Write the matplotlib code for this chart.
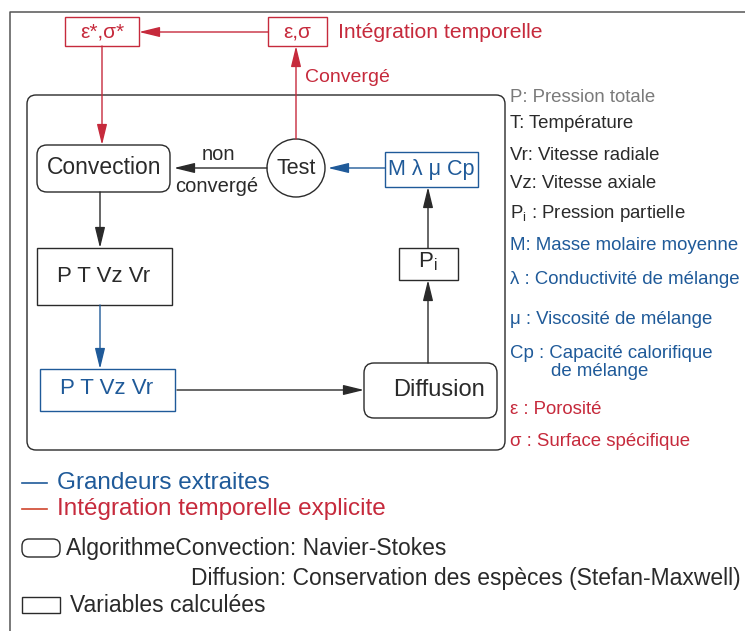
import matplotlib
matplotlib.use("Agg")
import matplotlib.pyplot as plt
from matplotlib.patches import FancyBboxPatch, Rectangle, Circle

plt.rcParams['font.family'] = ['Liberation Sans', 'DejaVu Sans']
plt.rcParams['mathtext.fontset'] = 'custom'
plt.rcParams['mathtext.rm'] = 'Liberation Sans'
plt.rcParams['mathtext.it'] = 'Liberation Sans'

RED = '#c62a3c'
BLUE = '#1f5a99'
DARK = '#2a2a2a'
GRAY = '#7a7a7a'

# ---- content ----
node_labels = {
    'eps_star': 'ε*,σ*',
    'eps': 'ε,σ',
    'conv': 'Convection',
    'test': 'Test',
    'props': 'M λ μ Cp',
    'pi': r'$\mathregular{P_i}$',
    'vars': 'P T Vz Vr',
    'vars_ext': 'P T Vz Vr',
    'diff': 'Diffusion',
}
edge_labels = {
    'top': 'Intégration temporelle',
    'conv_ok': 'Convergé',
    'non': 'non',
    'nonconv': 'convergé',
}
glossary_text = [
    'P: Pression totale',
    'T: Température',
    'Vr: Vitesse radiale',
    'Vz: Vitesse axiale',
    r'$\mathregular{P_i}$ : Pression partielle',
    'M: Masse molaire moyenne',
    'λ : Conductivité de mélange',
    'μ : Viscosité de mélange',
    'Cp : Capacité calorifique',
    'ε : Porosité',
    'σ : Surface spécifique',
]
glossary_kind = ['faint', 'plain', 'plain', 'plain', 'plain',
                 'blue', 'blue', 'blue', 'blue', 'red', 'red']
cp_second_line = 'de mélange'
legend_text = [
    'Grandeurs extraites',
    'Intégration temporelle explicite',
    'AlgorithmeConvection: Navier-Stokes',
    'Diffusion: Conservation des espèces (Stefan-Maxwell)',
    'Variables calculées',
]

kind_color = {'faint': GRAY, 'plain': DARK, 'blue': BLUE, 'red': RED}

W, H = 745, 631
fig = plt.figure(figsize=(W / 100, H / 100), dpi=100)
ax = fig.add_axes([0, 0, 1, 1])
ax.set_xlim(0, W)
ax.set_ylim(H, 0)
ax.axis('off')

# outer frame (top & left edges)
ax.plot([10, 10, W], [H, 12, 12], color='#555555', lw=1.1)

# inner algorithm frame
ax.add_patch(FancyBboxPatch((27, 95), 478, 355,
                            boxstyle='round,pad=0,rounding_size=9',
                            fc='none', ec=DARK, lw=1.0))


def rbox(x0, y0, x1, y1, ec, r=10):
    ax.add_patch(FancyBboxPatch((x0, y0), x1 - x0, y1 - y0,
                                boxstyle=f'round,pad=0,rounding_size={r}',
                                fc='white', ec=ec, lw=1.0))


def sbox(x0, y0, x1, y1, ec):
    ax.add_patch(Rectangle((x0, y0), x1 - x0, y1 - y0, fc='white', ec=ec, lw=1.0))


def arrow(x0, y0, x1, y1, color):
    ax.annotate('', xy=(x1, y1), xytext=(x0, y0),
                arrowprops=dict(arrowstyle='-|>,head_length=0.9,head_width=0.22',
                                color=color, lw=1.0, shrinkA=0, shrinkB=0,
                                mutation_scale=14))


def label(x, y, s, color=DARK, size=16, ha='center', **kw):
    ax.text(x, y, s, color=color, fontsize=size, ha=ha, va='center', **kw)


# boxes
sbox(65, 17, 139, 46, RED)
label(102, 32, node_labels['eps_star'], RED, 15)
sbox(268, 17, 327, 46, RED)
label(297.5, 32, node_labels['eps'], RED, 15)
label(338, 32, edge_labels['top'], RED, 15.2, ha='left')

rbox(37, 145, 170, 192, DARK)
label(104, 168, node_labels['conv'], DARK, 16.5)

ax.add_patch(Circle((296, 168), 29, fc='white', ec=DARK, lw=1.0))
label(296, 169, node_labels['test'], DARK, 15.5)

sbox(385, 152, 478, 187, BLUE)
label(431, 170, node_labels['props'], BLUE, 15.5)

sbox(399, 248, 458, 280, DARK)
label(428, 262, node_labels['pi'], DARK, 16)

sbox(37, 248, 172, 305, DARK)
label(104, 277, node_labels['vars'], DARK, 16)

sbox(40, 369, 175, 411, BLUE)
label(107, 389, node_labels['vars_ext'], BLUE, 16)

rbox(364, 363, 497, 418, DARK)
label(439, 390, node_labels['diff'], DARK, 17)

# arrows
arrow(268, 32, 139, 32, RED)
arrow(102, 46, 102, 145, RED)
arrow(296, 139, 296, 46, RED)
label(305, 77, edge_labels['conv_ok'], RED, 14, ha='left')

arrow(267, 168, 174, 168, DARK)
label(218, 155, edge_labels['non'], DARK, 14.5)
label(217, 187, edge_labels['nonconv'], DARK, 14.5)

arrow(385, 168, 328, 168, BLUE)
arrow(428, 248, 428, 187, DARK)
arrow(428, 363, 428, 280, DARK)
arrow(100, 192, 100, 248, DARK)
arrow(100, 305, 100, 369, BLUE)
arrow(177, 390, 364, 390, DARK)

# glossary on the right
gloss_y = [97, 123, 155, 184, 214, 245, 280, 320, 353, 410, 441]
for txt, kind, y in zip(glossary_text, glossary_kind, gloss_y):
    label(510, y, txt, kind_color[kind], 13.4, ha='left')
label(551, 372, cp_second_line, BLUE, 13.4, ha='left')

# bottom legend
ax.plot([22, 47], [483, 483], color=BLUE, lw=1.2)
label(57, 483, legend_text[0], BLUE, 17.5, ha='left')
ax.plot([22, 47], [509, 509], color='#d0452e', lw=1.2)
label(57, 509, legend_text[1], RED, 17.5, ha='left')
rbox(22, 539, 60, 557, DARK, r=7)
label(66, 549, legend_text[2], DARK, 16.5, ha='left')
label(191, 579, legend_text[3], DARK, 16.5, ha='left')
sbox(22, 597, 60, 613, DARK)
label(70, 606, legend_text[4], DARK, 16.5, ha='left')

fig.savefig('out.png', dpi=100)
